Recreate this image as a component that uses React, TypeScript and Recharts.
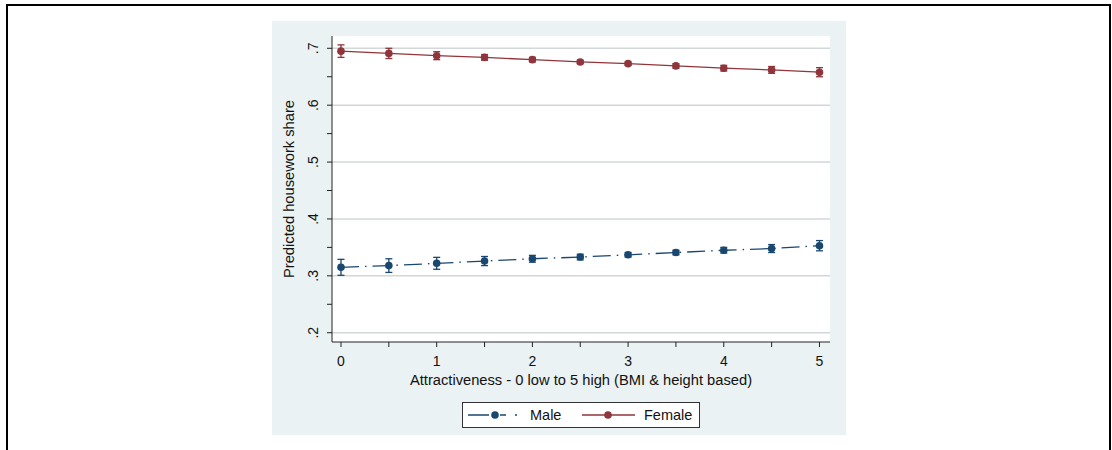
import React from 'react';
import {
  ComposedChart, Line, XAxis, YAxis, CartesianGrid, ReferenceLine, ErrorBar, Legend,
} from 'recharts';

const MALE = '#1a476f';
const FEMALE = '#90353b';
const FONT = '"Liberation Sans", Arial, sans-serif';
const MALE_DASH = '18 6 1.5 6';

const attractiveness = [0, 0.5, 1, 1.5, 2, 2.5, 3, 3.5, 4, 4.5, 5];
const maleShare = [0.315, 0.318, 0.322, 0.326, 0.330, 0.333, 0.337, 0.341, 0.345, 0.348, 0.353];
const maleCI = [0.014, 0.012, 0.0105, 0.008, 0.006, 0.005, 0.004, 0.004, 0.005, 0.007, 0.009];
const femaleShare = [0.695, 0.691, 0.687, 0.684, 0.680, 0.676, 0.673, 0.669, 0.665, 0.662, 0.658];
const femaleCI = [0.011, 0.009, 0.007, 0.005, 0.004, 0.003, 0.003, 0.004, 0.005, 0.006, 0.008];

const yMajor = [0.2, 0.3, 0.4, 0.5, 0.6, 0.7];
const yMinor = [0.25, 0.35, 0.45, 0.55, 0.65];
const xTicks = attractiveness;

const data = attractiveness.map((x, i) => ({
  x,
  male: maleShare[i],
  maleErr: maleCI[i],
  female: femaleShare[i],
  femaleErr: femaleCI[i],
}));

const yTicks = [...yMajor, ...yMinor].sort((a, b) => a - b);

function XTick({ x, y, payload }: any) {
  const v = payload.value;
  const major = Number.isInteger(v);
  return (
    <g>
      <line x1={x} x2={x} y1={y} y2={y + 5} stroke="#222" />
      {major && (
        <text x={x} y={y + 24} textAnchor="middle" fontSize={14} fill="#111" fontFamily={FONT}>{v}</text>
      )}
    </g>
  );
}

function YTick({ x, y, payload }: any) {
  const v = payload.value;
  const major = yMajor.some(m => Math.abs(m - v) < 1e-6);
  const tx = x - 14;
  return (
    <g>
      <line x1={x - 5} x2={x} y1={y} y2={y} stroke="#222" />
      {major && (
        <text x={tx} y={y} transform={`rotate(-90 ${tx} ${y})`} textAnchor="middle" fontSize={14} fill="#111" fontFamily={FONT}>
          {'.' + Math.round(v * 10)}
        </text>
      )}
    </g>
  );
}

function LegendBox() {
  return (
    <svg width={238} height={26} style={{ display: 'block' }}>
      <rect x={0.5} y={0.5} width={237} height={25} fill="#fff" stroke="#333" />
      <line x1={6} x2={60} y1={13} y2={13} stroke={MALE} strokeWidth={1.3} strokeDasharray="21 11 6 9 2 10" />
      <circle cx={33} cy={13} r={3.8} fill={MALE} />
      <text x={68} y={18} fontSize={14.5} fill="#111" fontFamily={FONT}>Male</text>
      <line x1={120} x2={173} y1={13} y2={13} stroke={FEMALE} strokeWidth={1.3} />
      <circle cx={146} cy={13} r={3.8} fill={FEMALE} />
      <text x={182} y={18} fontSize={14.5} fill="#111" fontFamily={FONT}>Female</text>
    </svg>
  );
}

export default function App() {
  return (
    <div style={{ position: 'relative', width: 1112, height: 450, background: '#fff', overflow: 'hidden' }}>
      <style>{'body{margin:0}'}</style>
      <div style={{
        position: 'absolute', left: 6, top: 4, width: 1101, height: 470,
        border: '2px solid #000',
      }} />
      <div style={{ position: 'absolute', left: 272, top: 21, width: 574, height: 414, background: '#eaf2f3' }}>
        <ComposedChart
          width={574}
          height={414}
          data={data}
          margin={{ top: 15, right: 16, bottom: 63, left: 20 }}
        >
          <CartesianGrid horizontal={false} vertical={false} fill="#fff" />
          {yMajor.map(v => (
            <ReferenceLine key={v} y={v} stroke="#d3d7d7" strokeWidth={1.5} />
          ))}
          <XAxis
            dataKey="x"
            type="number"
            domain={[-0.094, 5.11]}
            allowDataOverflow
            ticks={xTicks}
            interval={0}
            tickSize={0}
            tickMargin={0}
            tickLine={false}
            tick={<XTick />}
            height={30}
            axisLine={{ stroke: '#222' }}
            label={{
              value: 'Attractiveness - 0 low to 5 high (BMI & height based)',
              position: 'bottom',
              offset: 3,
              style: { fontSize: 14.7, fill: '#111', fontFamily: FONT },
            }}
          />
          <YAxis
            type="number"
            domain={[0.1837, 0.7216]}
            allowDataOverflow
            ticks={yTicks}
            interval={0}
            tickSize={0}
            tickMargin={0}
            tickLine={false}
            tick={<YTick />}
            width={40}
            axisLine={{ stroke: '#222' }}
            label={{
              content: ({ viewBox }: any) => {
                const lx = viewBox.x + 2;
                const ly = viewBox.y + viewBox.height / 2;
                return (
                  <text x={lx} y={ly} transform={`rotate(-90 ${lx} ${ly})`} textAnchor="middle" fontSize={14.7} fill="#111" fontFamily={FONT}>
                    Predicted housework share
                  </text>
                );
              },
            }}
          />
          <Line
            dataKey="male"
            name="Male"
            stroke={MALE}
            strokeWidth={1.3}
            strokeDasharray={MALE_DASH}
            dot={{ r: 3.8, fill: MALE, stroke: MALE, strokeWidth: 0 }}
            activeDot={false}
            isAnimationActive={false}
          >
            <ErrorBar dataKey="maleErr" direction="y" width={3.5} stroke={MALE} strokeWidth={1.3} isAnimationActive={false} />
          </Line>
          <Line
            dataKey="female"
            name="Female"
            stroke={FEMALE}
            strokeWidth={1.3}
            dot={{ r: 3.8, fill: FEMALE, stroke: FEMALE, strokeWidth: 0 }}
            activeDot={false}
            isAnimationActive={false}
          >
            <ErrorBar dataKey="femaleErr" direction="y" width={3.5} stroke={FEMALE} strokeWidth={1.3} isAnimationActive={false} />
          </Line>
          <Legend
            layout="horizontal"
            verticalAlign="middle"
            align="center"
            content={() => <LegendBox />}
            wrapperStyle={{ left: 190, top: 381, width: 238, height: 26, bottom: 'auto' }}
          />
        </ComposedChart>
      </div>
    </div>
  );
}
